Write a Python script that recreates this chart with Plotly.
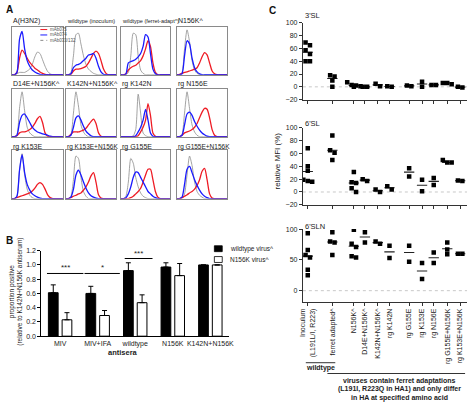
import plotly.graph_objects as go

W, H = 474, 406
FONT = "Arial, Liberation Sans, sans-serif"

# ---------------- Panel A: flow histograms (relative MFI axis 0..1, relative count 0..1)
HIST_X = [0, 0.05, 0.1, 0.15, 0.2, 0.25, 0.3, 0.35, 0.4, 0.45, 0.5,
          0.55, 0.6, 0.65, 0.7, 0.75, 0.8, 0.85, 0.9, 0.95, 1.0]
HIST_TITLES = ["A(H3N2)", "wildtype (inoculum)", "wildtype (ferret-adapt^)", "N156K^",
               "D14E+N156K^", "K142N+N156K^", "rg K142N", "rg N156E",
               "rg K153E", "rg K153E+N156K", "rg G155E", "rg G155E+N156K"]
HIST_TITLE_SIZES = [7, 5.5, 5.5, 7, 7, 7, 7, 7, 7, 6.5, 7, 6.5]

H01_GREY = [0, 0, 0.02, 0.05, 0.05, 0.05, 0.08, 0.12, 0.22, 0.38, 0.48, 0.45, 0.32, 0.18, 0.07, 0.02, 0, 0, 0, 0, 0]
H01_BLUE = [0, 0, 0.05, 0.75, 0.92, 0.55, 0.3, 0.18, 0.1, 0.06, 0.03, 0.01, 0, 0, 0, 0, 0, 0, 0, 0, 0]
H01_RED = [0, 0, 0.05, 0.35, 0.52, 0.45, 0.35, 0.26, 0.2, 0.14, 0.1, 0.06, 0.03, 0.01, 0, 0, 0, 0, 0, 0, 0]

H02_GREY = [0, 0, 0.05, 0.4, 0.85, 0.88, 0.65, 0.4, 0.22, 0.12, 0.07, 0.03, 0.01, 0, 0, 0, 0, 0, 0, 0, 0]
H02_BLUE = [0, 0, 0.02, 0.15, 0.2, 0.22, 0.25, 0.3, 0.35, 0.42, 0.43, 0.45, 0.35, 0.18, 0.06, 0.01, 0, 0, 0, 0, 0]
H02_RED = [0, 0, 0.01, 0.08, 0.12, 0.12, 0.13, 0.15, 0.18, 0.25, 0.35, 0.45, 0.5, 0.45, 0.3, 0.12, 0.03, 0, 0, 0, 0]

H03_GREY = [0, 0, 0, 0.05, 0.4, 0.88, 0.85, 0.4, 0.1, 0.03, 0, 0, 0, 0, 0, 0, 0, 0, 0, 0, 0]
H03_BLUE = [0, 0, 0.02, 0.25, 0.28, 0.3, 0.33, 0.38, 0.45, 0.6, 0.85, 0.8, 0.45, 0.12, 0.02, 0, 0, 0, 0, 0, 0]
H03_RED = [0, 0, 0.02, 0.1, 0.15, 0.18, 0.2, 0.25, 0.3, 0.4, 0.55, 0.72, 0.6, 0.25, 0.05, 0, 0, 0, 0, 0, 0]

H04_GREY = [0, 0, 0.05, 0.55, 0.95, 0.7, 0.3, 0.1, 0.03, 0, 0, 0, 0, 0, 0, 0, 0, 0, 0, 0, 0]
H04_BLUE = [0, 0, 0.02, 0.4, 0.72, 0.65, 0.35, 0.15, 0.06, 0.02, 0, 0, 0, 0, 0, 0, 0, 0, 0, 0, 0]
H04_RED = [0, 0.01, 0.03, 0.05, 0.06, 0.08, 0.1, 0.12, 0.15, 0.25, 0.38, 0.47, 0.42, 0.25, 0.08, 0.02, 0, 0, 0, 0, 0]

H05_GREY = [0, 0, 0.05, 0.6, 0.95, 0.55, 0.2, 0.08, 0.03, 0, 0, 0, 0, 0, 0, 0, 0, 0, 0, 0, 0]
H05_BLUE = [0, 0, 0.03, 0.3, 0.45, 0.48, 0.4, 0.3, 0.2, 0.14, 0.1, 0.08, 0.06, 0.05, 0.03, 0.01, 0, 0, 0, 0, 0]
H05_RED = [0, 0, 0.02, 0.08, 0.1, 0.1, 0.12, 0.15, 0.2, 0.28, 0.38, 0.43, 0.3, 0.08, 0.01, 0, 0, 0, 0, 0, 0]

H06_GREY = [0, 0, 0.05, 0.5, 0.95, 0.65, 0.25, 0.1, 0.03, 0, 0, 0, 0, 0, 0, 0, 0, 0, 0, 0, 0]
H06_BLUE = [0, 0, 0.03, 0.2, 0.4, 0.44, 0.35, 0.22, 0.12, 0.06, 0.02, 0, 0, 0, 0, 0, 0, 0, 0, 0, 0]
H06_RED = [0, 0, 0.05, 0.1, 0.1, 0.1, 0.12, 0.14, 0.18, 0.25, 0.32, 0.37, 0.28, 0.08, 0.01, 0, 0, 0, 0, 0, 0]

H07_GREY = [0, 0, 0, 0, 0, 0.02, 0.15, 0.9, 0.5, 0.08, 0.02, 0, 0, 0, 0, 0, 0, 0, 0, 0, 0]
H07_BLUE = [0, 0, 0, 0, 0, 0, 0.02, 0.1, 0.2, 0.35, 0.58, 0.35, 0.08, 0.01, 0, 0, 0, 0, 0, 0, 0]
H07_RED = [0, 0, 0, 0, 0, 0, 0, 0.02, 0.1, 0.2, 0.35, 0.7, 0.45, 0.08, 0.01, 0, 0, 0, 0, 0, 0]

H08_GREY = [0, 0, 0.05, 0.5, 0.95, 0.6, 0.25, 0.1, 0.03, 0, 0, 0, 0, 0, 0, 0, 0, 0, 0, 0, 0]
H08_BLUE = [0, 0, 0.03, 0.25, 0.48, 0.52, 0.45, 0.32, 0.22, 0.14, 0.08, 0.04, 0.01, 0, 0, 0, 0, 0, 0, 0, 0]
H08_RED = [0, 0, 0.03, 0.08, 0.1, 0.12, 0.15, 0.2, 0.28, 0.4, 0.52, 0.6, 0.58, 0.4, 0.15, 0.03, 0, 0, 0, 0, 0]

H09_GREY = [0, 0, 0.05, 0.6, 0.95, 0.5, 0.2, 0.07, 0.02, 0, 0, 0, 0, 0, 0, 0, 0, 0, 0, 0, 0]
H09_BLUE = [0, 0, 0.05, 0.6, 0.93, 0.55, 0.3, 0.18, 0.1, 0.06, 0.03, 0.01, 0, 0, 0, 0, 0, 0, 0, 0, 0]
H09_RED = [0, 0, 0.02, 0.04, 0.06, 0.08, 0.1, 0.12, 0.16, 0.22, 0.3, 0.34, 0.3, 0.2, 0.08, 0.02, 0, 0, 0, 0, 0]

H10_GREY = [0, 0, 0.05, 0.4, 0.9, 0.85, 0.45, 0.15, 0.05, 0, 0, 0, 0, 0, 0, 0, 0, 0, 0, 0, 0]
H10_BLUE = [0, 0, 0.03, 0.2, 0.5, 0.6, 0.5, 0.35, 0.22, 0.12, 0.06, 0.03, 0.01, 0, 0, 0, 0, 0, 0, 0, 0]
H10_RED = [0, 0, 0.02, 0.05, 0.07, 0.1, 0.12, 0.18, 0.25, 0.35, 0.48, 0.55, 0.35, 0.08, 0.01, 0, 0, 0, 0, 0, 0]

H11_GREY = [0, 0, 0.05, 0.35, 0.85, 0.75, 0.45, 0.25, 0.12, 0.05, 0.02, 0, 0, 0, 0, 0, 0, 0, 0, 0, 0]
H11_BLUE = [0, 0, 0.02, 0.1, 0.25, 0.45, 0.56, 0.55, 0.45, 0.35, 0.25, 0.15, 0.1, 0.05, 0.02, 0, 0, 0, 0, 0, 0]
H11_RED = [0, 0, 0, 0, 0.02, 0.05, 0.1, 0.15, 0.22, 0.35, 0.5, 0.62, 0.62, 0.4, 0.15, 0.03, 0, 0, 0, 0, 0]

H12_GREY = [0, 0, 0, 0.1, 0.5, 0.9, 0.7, 0.35, 0.15, 0.07, 0.03, 0, 0, 0, 0, 0, 0, 0, 0, 0, 0]
H12_BLUE = [0, 0, 0.03, 0.3, 0.62, 0.68, 0.55, 0.4, 0.28, 0.18, 0.1, 0.05, 0.02, 0, 0, 0, 0, 0, 0, 0, 0]
H12_RED = [0, 0, 0.02, 0.05, 0.08, 0.12, 0.15, 0.2, 0.28, 0.4, 0.58, 0.64, 0.4, 0.1, 0.01, 0, 0, 0, 0, 0, 0]

HIST_GREY = [H01_GREY, H02_GREY, H03_GREY, H04_GREY, H05_GREY, H06_GREY,
             H07_GREY, H08_GREY, H09_GREY, H10_GREY, H11_GREY, H12_GREY]
HIST_BLUE = [H01_BLUE, H02_BLUE, H03_BLUE, H04_BLUE, H05_BLUE, H06_BLUE,
             H07_BLUE, H08_BLUE, H09_BLUE, H10_BLUE, H11_BLUE, H12_BLUE]
HIST_RED = [H01_RED, H02_RED, H03_RED, H04_RED, H05_RED, H06_RED,
            H07_RED, H08_RED, H09_RED, H10_RED, H11_RED, H12_RED]
HIST_LEGEND = ["mAb075", "mAb074", "mAb033/132"]

# ---------------- Panel B: bar chart
B_CATS = ["MIV", "MIV+IFA", "wildtype", "N156K", "K142N+N156K"]
B_WT = [0.61, 0.60, 0.92, 0.97, 1.00]
B_WT_ERR = [0.11, 0.10, 0.11, 0.06, 0.0]
B_N156K = [0.23, 0.29, 0.47, 0.85, 1.00]
B_N156K_ERR = [0.10, 0.07, 0.11, 0.17, 0.0]
B_SIG = ["***", "*", "***"]
B_SIG_Y = [0.88, 0.88, 1.09]
B_YTICKS = [0.0, 0.2, 0.4, 0.6, 0.8, 1.0, 1.2]

# ---------------- Panel C: relative MFI per glycan
C_LABELS = ["Inoculum<br>(L191L/I, R223)", "ferret adapted^", "N156K^", "D14E+N156K^",
            "K142N+N156K^", "rg K142N", "rg G155E", "rg K153E", "rg N156E",
            "rg G155E+N156K", "rg K153E+N156K"]
SL3 = [[69, 65, 57, 51, 40, 40], [18, 16, 10, 0], [7, 3, 2, 1, 0], [0, 0], [1, 5],
       [0, 1], [1, 2], [8, 0], [3, 3], [6, 4, 6], [0, -1]]
SL3_MED = [54, 13, 2, 0, 3, 0.5, 1.5, 4.5, 3, 6, -0.5]
SL6 = [[68, 40, 33, 19, 17, 16], [88, 65, 61, 50], [31, 15, 14, 6, 0], [17, 20], [0, 4],
       [4, 9], [37, 24], [19, 1], [22, 11], [50, 46, 46], [18, 17]]
SL6_MED = [32, 65, 14, 18.5, 2, 6.5, 31, 10.5, 16.5, 46, 17.5]
SLN6 = [[93, 66, 58, 54, 34, 25], [95, 80, 78, 58], [99, 76, 71, 56, 54], [95, 78], [76, 80],
        [73, 53], [73, 47], [45, 19], [62, 45], [78, 67, 59], [60, 60]]
SLN6_MED = [56, 79, 72, 87, 78, 63, 62, 32, 53.5, 68, 60]
C_TITLES = ["3'SL", "6'SL", "6'SLN"]

# ---------------- layout helpers
C_POS = [0, 2, 3.75, 4.65, 5.7, 6.65, 8.25, 9.3, 10.25, 11.35, 12.4]


def px_x(p):
    return p / W


def px_y(p):
    return 1 - p / H


def axkey(kind, n):
    return f"{kind}axis" if n == 1 else f"{kind}axis{n}"


def aref(kind, n):
    return kind if n == 1 else f"{kind}{n}"


def swarm(values, thr=6.5, step=0.36):
    order = sorted(range(len(values)), key=lambda i: -values[i])
    rows = []
    for i in order:
        if rows and rows[-1][0] - values[i] <= thr:
            rows[-1][1].append(i)
        else:
            rows.append([values[i], [i]])
    offs = [0.0] * len(values)
    for _, idx in rows:
        n = len(idx)
        for k, i in enumerate(idx):
            offs[i] = (k - (n - 1) / 2) * step
    return offs


def text_at(text, x, y, size, xanchor="center", angle=0, color="#222"):
    return dict(text=text, x=px_x(x), y=px_y(y), xref="paper", yref="paper",
                xanchor=xanchor, yanchor="middle", textangle=angle, showarrow=False,
                font=dict(size=size, color=color))


fig = go.Figure()
layout = dict(width=W, height=H, margin=dict(l=0, r=0, t=0, b=0),
              paper_bgcolor="white", plot_bgcolor="white", showlegend=False,
              font=dict(family=FONT, size=7, color="#222"))
shapes, annots = [], []

# ---------------- Panel A
COLS = [(9, 61), (64, 115), (120, 170), (177, 228)]
ROWS = [(23, 72), (86, 135), (149, 198)]
TITLE_Y = [17, 81, 145]
for i in range(12):
    n = i + 1
    r, c = divmod(i, 4)
    x0, x1 = COLS[c]
    y0, y1 = ROWS[r]
    frame = dict(showline=True, mirror=True, linecolor="#8a8a8a", linewidth=1,
                 showgrid=False, zeroline=False, showticklabels=False, ticks="")
    layout[axkey("x", n)] = dict(domain=[px_x(x0), px_x(x1)], range=[0, 1],
                                 anchor=aref("y", n), **frame)
    layout[axkey("y", n)] = dict(domain=[px_y(y1), px_y(y0)], range=[0, 1.02],
                                 anchor=aref("x", n), **frame)
    for curve, col, wid in ((HIST_GREY[i], "#8c8c8c", 0.8),
                            (HIST_RED[i], "#ee1c25", 1.3),
                            (HIST_BLUE[i], "#1a1aff", 1.3)):
        fig.add_trace(go.Scatter(x=HIST_X, y=curve, mode="lines",
                                 xaxis=aref("x", n), yaxis=aref("y", n),
                                 line=dict(color=col, width=wid, shape="spline", smoothing=0.7),
                                 hoverinfo="skip"))
    annots.append(text_at(HIST_TITLES[i], x0 - 1, TITLE_Y[r], HIST_TITLE_SIZES[i], xanchor="left"))

# legend inside first histogram
for k, (lab, col, dash) in enumerate(zip(HIST_LEGEND, ["#ee1c25", "#1a1aff", "#8c8c8c"],
                                         ["solid", "solid", "dot"])):
    yy = 26 + k * 5.5
    shapes.append(dict(type="line", xref="paper", yref="paper", x0=px_x(38), x1=px_x(45),
                       y0=px_y(yy), y1=px_y(yy), line=dict(color=col, width=1, dash=dash)))
    annots.append(text_at(lab, 46, yy, 4.5, xanchor="left", color="#555"))

# ---------------- Panel B
NB = 13
fig.add_trace(go.Bar(x=B_CATS, y=B_WT, name="wildtype virus^", xaxis=aref("x", NB), yaxis=aref("y", NB),
                     marker=dict(color="black", line=dict(color="black", width=1)),
                     error_y=dict(type="data", symmetric=False, array=B_WT_ERR,
                                  arrayminus=[0] * len(B_WT), color="black", thickness=1, width=2.5)))
fig.add_trace(go.Bar(x=B_CATS, y=B_N156K, name="N156K virus^", xaxis=aref("x", NB), yaxis=aref("y", NB),
                     marker=dict(color="white", line=dict(color="black", width=1)),
                     error_y=dict(type="data", symmetric=False, array=B_N156K_ERR,
                                  arrayminus=[0] * len(B_N156K), color="black", thickness=1, width=2.5)))
layout["barmode"] = "group"
layout["bargap"] = 0.27
layout["bargroupgap"] = 0.29
layout[axkey("x", NB)] = dict(domain=[px_x(39), px_x(230)], anchor=aref("y", NB),
                              showline=True, linecolor="black", linewidth=1, ticks="", ticklen=0,
                              tickangle=0, showgrid=False, tickfont=dict(size=7, color="#222"))
layout[axkey("y", NB)] = dict(domain=[px_y(338), px_y(251)], anchor=aref("x", NB), range=[0, 1.2],
                              tickvals=B_YTICKS, ticktext=[f"{v:.1f}" for v in B_YTICKS],
                              showline=True, linecolor="black", linewidth=1, ticks="outside",
                              ticklen=3, tickcolor="black", showgrid=False, zeroline=False,
                              tickfont=dict(size=7, color="#222"))
SIG_SPANS = [(-0.35, 0.62), (0.65, 1.59), (1.72, 2.46)]
for (a, b), s, yv in zip(SIG_SPANS, B_SIG, B_SIG_Y):
    shapes.append(dict(type="line", xref=aref("x", NB), yref=aref("y", NB), x0=a, x1=b, y0=yv, y1=yv,
                       line=dict(color="black", width=1)))
    annots.append(dict(text=s, x=(a + b) / 2, y=yv, xref=aref("x", NB), yref=aref("y", NB),
                       xanchor="center", yanchor="bottom", showarrow=False, yshift=-1,
                       font=dict(size=8, color="#222")))
for k, (lab, fill) in enumerate([("wildtype virus^", "black"), ("N156K virus^", "white")]):
    yc = 249 + k * 11
    shapes.append(dict(type="rect", xref="paper", yref="paper", x0=px_x(215), x1=px_x(223),
                       y0=px_y(yc + 3), y1=px_y(yc - 3), fillcolor=fill,
                       line=dict(color="black", width=0.8)))
    annots.append(text_at(lab, 229, yc, 6.5, xanchor="left"))
annots.append(text_at("proportion positive<br>(relative to K142N+N156K antiserum)", 13, 293, 6.5, angle=-90))
annots.append(text_at("<b>antisera</b>", 122, 355, 7.5))

# ---------------- Panel C
C_SETS = [(SL3, SL3_MED), (SL6, SL6_MED), (SLN6, SLN6_MED)]
C_YDOM = [(19, 98), (126, 205), (229, 303)]
C_YRANGE = [[-21, 100], [-21, 100], [-18, 100]]
C_YTICKS = [[-20, 0, 20, 40, 60, 80, 100], [-20, 0, 20, 40, 60, 80, 100], [0, 50, 100]]
C_TITLE_Y = [12, 122, 226]
for s, (vals_list, meds) in enumerate(C_SETS):
    n = 14 + s
    xs, ys, mx, my = [], [], [], []
    for c, vals in enumerate(vals_list):
        for v, o in zip(vals, swarm(vals)):
            xs.append(C_POS[c] + o)
            ys.append(v)
        mx += [C_POS[c] - 0.42, C_POS[c] + 0.42, None]
        my += [meds[c], meds[c], None]
    fig.add_trace(go.Scatter(x=mx, y=my, mode="lines", xaxis=aref("x", n), yaxis=aref("y", n),
                             line=dict(color="#222", width=1.1), hoverinfo="skip"))
    fig.add_trace(go.Scatter(x=xs, y=ys, mode="markers", xaxis=aref("x", n), yaxis=aref("y", n),
                             marker=dict(symbol="square", size=4.5, color="black")))
    last = s == 2
    layout[axkey("x", n)] = dict(domain=[px_x(305), px_x(472)], range=[-0.4, 12.96],
                                 anchor=aref("y", n), tickvals=C_POS,
                                 ticktext=C_LABELS if last else [""] * len(C_POS),
                                 showticklabels=last, tickangle=-90,
                                 showline=True, linecolor="#333", linewidth=1, ticks="outside",
                                 ticklen=3, tickcolor="#333", showgrid=False, zeroline=False,
                                 tickfont=dict(size=7, color="#222"))
    y0, y1 = C_YDOM[s]
    layout[axkey("y", n)] = dict(domain=[px_y(y1), px_y(y0)], range=C_YRANGE[s],
                                 anchor=aref("x", n), tickvals=C_YTICKS[s],
                                 showline=True, linecolor="#333", linewidth=1, ticks="outside",
                                 ticklen=3, tickcolor="#333", showgrid=False, zeroline=False,
                                 tickfont=dict(size=7, color="#222"))
    shapes.append(dict(type="line", xref=f"{aref('x', n)} domain", yref=aref("y", n),
                       x0=0, x1=1, y0=0, y1=0, layer="below",
                       line=dict(color="#c8c8c8", width=1, dash="dot")))
    annots.append(text_at(C_TITLES[s], 305, C_TITLE_Y[s], 7.5, xanchor="left"))

annots.append(text_at("relative MFI (%)", 279, 160, 8, angle=-90))
shapes.append(dict(type="line", xref="paper", yref="paper", x0=px_x(308), x1=px_x(338),
                   y0=px_y(365), y1=px_y(365), line=dict(color="#333", width=1)))
annots.append(text_at("<b>wildtype</b>", 323, 370.5, 7))
shapes.append(dict(type="line", xref="paper", yref="paper", x0=px_x(330), x1=px_x(470),
                   y0=px_y(376), y1=px_y(376), line=dict(color="#333", width=1.2)))
for k, line in enumerate(["viruses contain ferret adaptations",
                          "(L191I, R223Q in HA1) and only differ",
                          "in HA at specified amino acid"]):
    annots.append(text_at(f"<b>{line}</b>", 403, 383.5 + k * 8.5, 7))

# panel letters
for lab, x, y in (("A", 7, 6), ("B", 7, 241), ("C", 274, 7)):
    annots.append(text_at(f"<b>{lab}</b>", x, y, 10, color="#111"))

layout["shapes"] = shapes
layout["annotations"] = annots
fig.update_layout(**layout)
fig.write_html("out.html", config={"displayModeBar": False, "staticPlot": True},
               post_script="document.body.style.margin='0';document.body.style.overflow='hidden';")
